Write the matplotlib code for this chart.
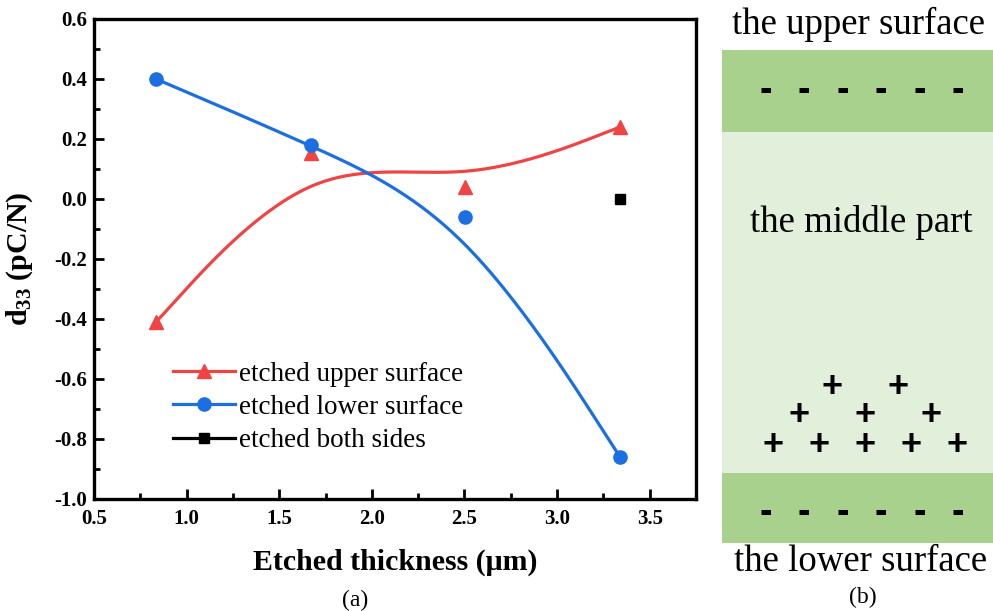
import numpy as np
import matplotlib
matplotlib.use("Agg")
import matplotlib.pyplot as plt
from matplotlib.lines import Line2D
from matplotlib.ticker import MultipleLocator, FormatStrFormatter

plt.rcParams['font.family'] = ['Liberation Serif', 'DejaVu Serif']
plt.rcParams['mathtext.fontset'] = 'custom'
plt.rcParams['mathtext.rm'] = 'Liberation Serif'
plt.rcParams['mathtext.bf'] = 'Liberation Serif:bold'
plt.rcParams['axes.unicode_minus'] = False

# measured d33 values
thickness = [0.835, 1.67, 2.505, 3.34]
d33_upper = [-0.41, 0.155, 0.04, 0.24]
d33_lower = [0.40, 0.18, -0.06, -0.86]
thickness_both = [3.34]
d33_both = [0.0]

labels = ['etched upper surface', 'etched lower surface', 'etched both sides']

RED = '#F04444'
BLUE = '#1C6FE0'
DARK_GREEN = '#A9D18E'
LIGHT_GREEN = '#E2EFDA'


def bspline3(x, y, n=60):
    # uniform cubic B-spline, end points repeated so the curve starts/ends on them
    p = np.column_stack([x, y]).astype(float)
    if len(p) < 3:
        return p[:, 0], p[:, 1]
    q = np.vstack([p[:1], p[:1], p, p[-1:], p[-1:]])
    u = np.linspace(0, 1, n)[:, None]
    b0 = (1 - u) ** 3 / 6
    b1 = (3 * u ** 3 - 6 * u ** 2 + 4) / 6
    b2 = (-3 * u ** 3 + 3 * u ** 2 + 3 * u + 1) / 6
    b3 = u ** 3 / 6
    segs = [b0 * q[i] + b1 * q[i + 1] + b2 * q[i + 2] + b3 * q[i + 3]
            for i in range(len(q) - 3)]
    out = np.vstack(segs)
    return out[:, 0], out[:, 1]


fig = plt.figure(figsize=(9.93, 6.11), dpi=100)

# (a) d33 vs etched thickness
ax = fig.add_axes([94 / 993, 112 / 611, 602 / 993, 480 / 611])

xs, ys = bspline3(thickness, d33_upper)
ax.plot(xs, ys, color=RED, lw=2.3)
xs, ys = bspline3(thickness, d33_lower)
ax.plot(xs, ys, color=BLUE, lw=2.3)
ax.plot(thickness, d33_upper, ls='none', marker='^', ms=10, color=RED)
ax.plot(thickness, d33_lower, ls='none', marker='o', ms=9.5, color=BLUE)
ax.plot(thickness_both, d33_both, ls='none', marker='s', ms=7.5, color='black')

ax.set_xlim(0.5, 3.75)
ax.set_ylim(-1.0, 0.6)
ax.xaxis.set_major_locator(MultipleLocator(0.5))
ax.xaxis.set_minor_locator(MultipleLocator(0.25))
ax.yaxis.set_major_locator(MultipleLocator(0.2))
ax.yaxis.set_minor_locator(MultipleLocator(0.1))
ax.xaxis.set_major_formatter(FormatStrFormatter('%.1f'))
ax.yaxis.set_major_formatter(FormatStrFormatter('%.1f'))
ax.tick_params(which='both', direction='in', width=2, top=False, right=False)
ax.tick_params(which='major', length=7)
ax.tick_params(which='minor', length=4)
ax.tick_params(axis='x', pad=7)
ax.tick_params(axis='y', pad=5)
for lab in ax.get_xticklabels() + ax.get_yticklabels():
    lab.set_fontsize(15)
    lab.set_fontweight('bold')
for s in ax.spines.values():
    s.set_linewidth(2.4)

ax.set_xlabel('Etched thickness (μm)', fontsize=21.5, fontweight='bold')
ax.set_ylabel(r'$\mathbf{d_{33}}$ (pC/N)', fontsize=21.5, fontweight='bold')
ax.xaxis.set_label_coords(0.5, -0.104)
ax.yaxis.set_label_coords(-0.098, 0.5)

handles = [
    Line2D([], [], color=RED, lw=2.3, marker='^', ms=10),
    Line2D([], [], color=BLUE, lw=2.3, marker='o', ms=9.5),
    Line2D([], [], color='black', lw=2.3, marker='s', ms=7.5),
]
ax.legend(handles, labels, loc='upper left', bbox_to_anchor=(0.113, 0.309),
          frameon=False, fontsize=19.5, handlelength=2.3, handletextpad=0.15,
          labelspacing=0.31, borderaxespad=0)

fig.text(355 / 993, 1 - 600 / 611, '(a)', ha='center', va='center', fontsize=17)

# (b) charge distribution sketch, drawn in pixel coordinates
bx = fig.add_axes([722 / 993, 0, 271 / 993, 1])
bx.set_xlim(722, 993)
bx.set_ylim(611, 0)
bx.axis('off')
bx.axhspan(50, 132, color=DARK_GREEN, lw=0)
bx.axhspan(132, 473, color=LIGHT_GREEN, lw=0)
bx.axhspan(473, 543, color=DARK_GREEN, lw=0)

bx.text(858, 24, 'the upper surface', ha='center', va='center', fontsize=26.5, clip_on=False)
bx.text(861, 222, 'the middle part', ha='center', va='center', fontsize=26.5)
bx.text(861, 562, 'the lower surface', ha='center', va='center', fontsize=26.5, clip_on=False)
bx.text(863, 597, '(b)', ha='center', va='center', fontsize=17)

minus_x = [766, 804, 843, 881, 920, 958]
for x in minus_x:
    bx.text(x, 91, '-', ha='center', va='center', fontsize=27,
            fontweight='bold', family='Liberation Sans')
    bx.text(x, 513, '-', ha='center', va='center', fontsize=27,
            fontweight='bold', family='Liberation Sans')

plus_rows = [
    (388, [832, 898]),
    (416, [799, 865, 931]),
    (446, [773, 819, 865, 911, 957]),
]
for y, row in plus_rows:
    for x in row:
        bx.text(x, y, '+', ha='center', va='center', fontsize=26,
                fontweight='bold', family='Liberation Sans')

fig.savefig('out.png', dpi=100)
